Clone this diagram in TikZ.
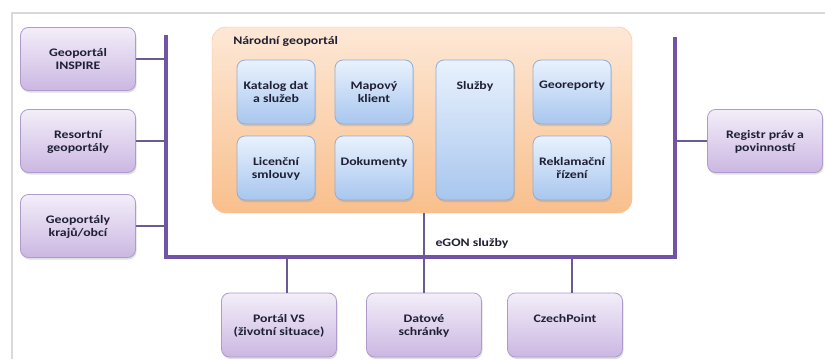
\documentclass[tikz,border=0pt]{standalone}
\usepackage{fontspec}
\setmainfont{Carlito}[FakeStretch=1.2]
\usetikzlibrary{positioning,shadows}
\definecolor{lilatop}{HTML}{F3EEF9}
\definecolor{lilabot}{HTML}{CBB7E2}
\definecolor{lilaline}{HTML}{AE9ACD}
\definecolor{modtop}{HTML}{E9F2FD}
\definecolor{modbot}{HTML}{A8C6EE}
\definecolor{modline}{HTML}{90ADD8}
\definecolor{orantop}{HTML}{FDE8D6}
\definecolor{oranbot}{HTML}{F9BF8C}
\definecolor{barcol}{HTML}{7254A7}
\definecolor{linecol}{HTML}{6C5A94}
\definecolor{txtcol}{HTML}{1F1F35}
\definecolor{framecol}{HTML}{D9D9D9}
\begin{document}
\begin{tikzpicture}[x=1pt, y=-1pt,
  font=\bfseries\fontsize{11.5}{13}\selectfont, text=txtcol,
  boxshadow/.style={drop shadow={shadow xshift=1pt, shadow yshift=-2pt, opacity=0.25, fill=black!50}},
  pbox/.style={draw=lilaline, line width=0.8pt, rounded corners=8pt, top color=lilatop, bottom color=lilabot,
    minimum width=115pt, minimum height=63pt, boxshadow},
  mbox/.style={draw=modline, line width=0.8pt, rounded corners=8pt, top color=modtop, bottom color=modbot,
    minimum width=78pt, minimum height=64pt, boxshadow},
  boxtext/.style={anchor=north, yshift=-18pt, align=center},
  bar/.style={draw=barcol, line width=4.5pt, line join=miter},
  link/.style={draw=linecol, line width=2.5pt}]
  \useasboundingbox (0,0) rectangle (825,359);
  \draw[framecol, line width=1.5pt] (12,359) -- (12,13) -- (825,13);

  % eGON sbernice
  \coordinate (barLt) at (166,35);
  \coordinate (barLb) at (166,257);
  \coordinate (barRb) at (675,257);
  \coordinate (barRt) at (675,37);

  % narodni geoportal
  \node[draw=oranbot, rounded corners=14pt, top color=orantop, bottom color=oranbot,
    minimum width=420pt, minimum height=186pt,
    label={[anchor=base west, xshift=18pt, yshift=-18pt]north west:Národní geoportál}] (narodni) at (422,120) {};
  \node[mbox, label={[boxtext]north:{Katalog dat\\a služeb}}] (katalog) at (276,92) {};
  \node[mbox, label={[boxtext]north:{Mapový\\klient}}] (mapovy) at (374,92) {};
  \node[mbox, minimum height=140pt, label={[boxtext]north:Služby}] (sluzby) at (475,130) {};
  \node[mbox, label={[boxtext]north:Georeporty}] (georeporty) at (572,92) {};
  \node[mbox, label={[boxtext]north:{Licenční\\smlouvy}}] (licencni) at (276,168) {};
  \node[mbox, label={[boxtext]north:Dokumenty}] (dokumenty) at (374,168) {};
  \node[mbox, label={[boxtext]north:{Reklamační\\řízení}}] (reklamacni) at (572,168) {};

  % okolni systemy
  \node[pbox, label={[boxtext]north:{Geoportál\\INSPIRE}}] (inspire) at (78,59) {};
  \node[pbox, label={[boxtext]north:{Resortní\\geoportály}}] (resortni) at (78,141) {};
  \node[pbox, label={[boxtext]north:{Geoportály\\krajů/obcí}}] (kraje) at (78,226) {};
  \node[pbox, label={[boxtext]north:{Registr práv a\\povinností}}] (registr) at (765,141) {};
  \node[pbox, minimum height=64pt, label={[boxtext]north:{Portál VS\\(životní situace)}}] (portal) at (279,325) {};
  \node[pbox, minimum height=64pt, label={[boxtext]north:{Datové\\schránky}}] (datove) at (424,325) {};
  \node[pbox, minimum height=64pt, label={[boxtext]north:CzechPoint}] (czech) at (565,325) {};
  \node (egon) at (472,243) {eGON služby};

  \draw[bar] (barLt) -- (barLb) -- (barRb) -- (barRt);
  \draw[link] (inspire.east) -- (inspire.east -| barLt);
  \draw[link] (resortni.east) -- (resortni.east -| barLt);
  \draw[link] (kraje.east) -- (kraje.east -| barLt);
  \draw[link] (registr.west) -- (registr.west -| barRt);
  \draw[link] ([xshift=8pt]portal.north) -- ([xshift=8pt]portal.north |- barLb);
  \draw[link] (datove.north) -- (datove.north |- narodni.south);
  \draw[link] ([xshift=7pt]czech.north) -- ([xshift=7pt]czech.north |- barLb);
\end{tikzpicture}
\end{document}
